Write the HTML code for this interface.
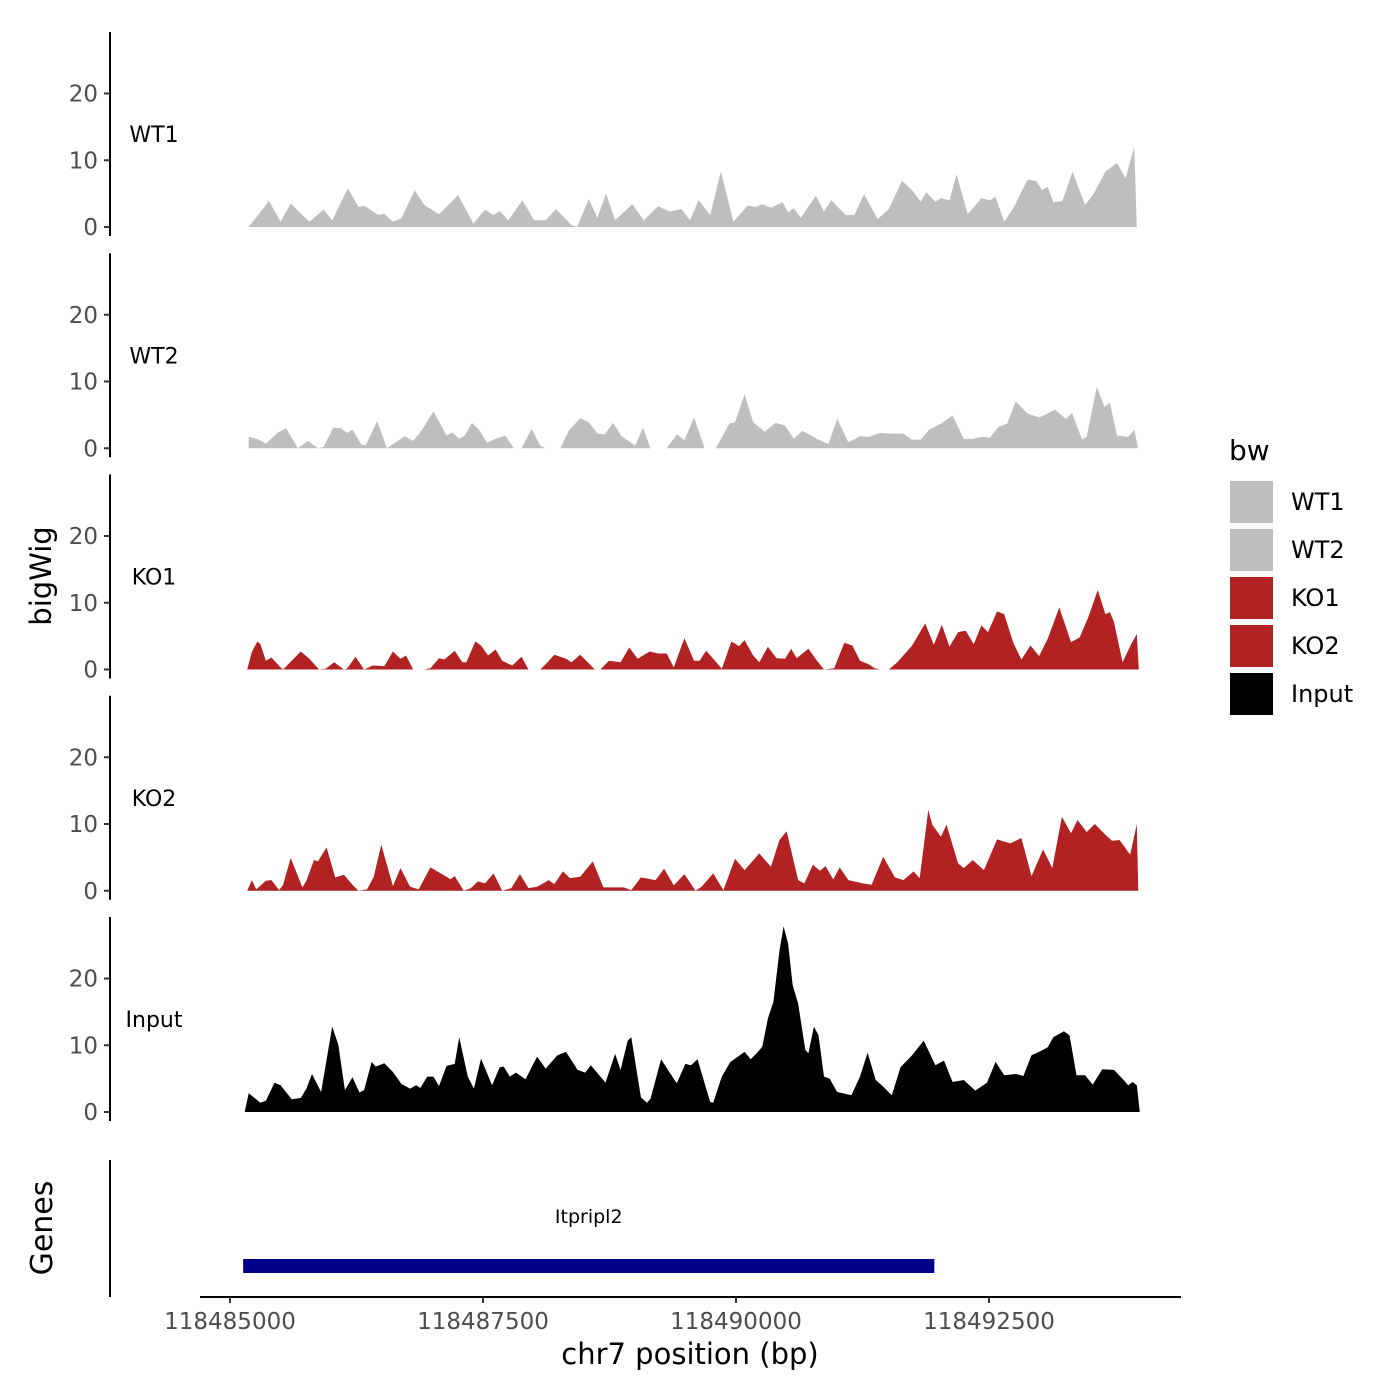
<!DOCTYPE html>
<html><head><meta charset="utf-8"><style>
html,body{margin:0;padding:0;background:#fff;}
svg{display:block;font-family:"DejaVu Sans","Liberation Sans",sans-serif;}
</style></head><body>
<svg id="chart" width="1400" height="1400" viewBox="0 0 1400 1400" xmlns="http://www.w3.org/2000/svg">
<rect width="1400" height="1400" fill="#fff"/>
<g id="tracks"></g>
<g id="axes"></g>
<text x="51" y="576" font-size="29" text-anchor="middle" transform="rotate(-90 51 576)" fill="#000">bigWig</text>
<text x="52" y="1228" font-size="30" text-anchor="middle" transform="rotate(-90 52 1228)" fill="#000">Genes</text>
<text x="690" y="1364" font-size="29" text-anchor="middle" fill="#000">chr7 position (bp)</text>
<g id="legend">
<text x="1229" y="460" font-size="28" fill="#000">bw</text>
</g>
</svg>
<script>
const regionStart = 118485000;
const trackNames = ["WT1","WT2","KO1","KO2","Input"];
const trackColors = ["#bebebe","#bebebe","#b22222","#b22222","#000000"];
const yTicks = [0,10,20];
const xTicks = [118485000,118487500,118490000,118492500];
const xTickLabels = ["118485000","118487500","118490000","118492500"];
const geneName = "Itpripl2";
const geneStart = 118485130;
const geneEnd = 118491960;

const wt1Pos = [185,385,500,600,785,925,1010,1165,1270,1325,1465,1525,1610,1695,1825,1920,2065,2255,2405,2520,2605,2665,2750,2890,3005,3120,3220,3375,3430,3545,3630,3715,3805,3975,4090,4230,4345,4460,4545,4630,4745,4850,4975,5115,5200,5260,5345,5460,5515,5570,5640,5790,5870,5940,6085,6170,6265,6400,6510,6640,6740,6825,6880,6970,7025,7110,7180,7290,7425,7510,7565,7650,7740,7880,7965,8025,8080,8135,8225,8325,8450,8535,8650,8765,8850,8935,8960];
const wt1Val = [0,3.9,0.8,3.5,0.8,2.6,1,5.8,3,3.2,1.8,2,0.8,1.3,5.5,3.3,1.9,4.8,0.5,2.6,1.8,2.4,1,4,1,1,2.7,0.3,0,4.2,1.4,5,1,3.4,1,3.1,2.3,2.7,1,4,1.8,8.3,0.8,3.2,3,3.4,2.9,3.7,2.2,2.8,1.4,4.7,2.3,4,1.8,1.8,4.9,1.2,2.7,6.9,5.5,3.8,5.2,3.8,4.3,4,7.9,1.9,4.3,4,4.5,0.8,2.8,7.1,6.9,5.5,6,3.7,3.9,8.3,3.3,5,8.3,9.6,7.3,12,0];

const wt2Pos = [185,270,355,470,555,670,770,870,925,1020,1095,1155,1210,1295,1340,1455,1550,1725,1810,1895,2010,2095,2140,2195,2265,2320,2390,2465,2540,2605,2720,2805,2880,2980,3065,3120,3265,3350,3460,3545,3630,3705,3785,3870,4005,4080,4155,4315,4415,4490,4585,4690,4800,4935,4990,5085,5170,5285,5390,5485,5570,5655,5800,5885,5915,6000,6110,6225,6310,6425,6540,6655,6740,6825,6910,7025,7140,7250,7340,7425,7510,7595,7680,7765,7880,7995,8080,8150,8260,8320,8420,8465,8565,8640,8695,8765,8875,8935,8970];
const wt2Val = [1.7,1.4,0.7,2.3,3,0,1.1,0,0.2,3.1,3,2.3,2.8,0.6,0.4,4.1,0,1.8,1.1,2.7,5.5,3.2,1.9,2.4,1.4,1.9,3.8,2.7,0.8,1.3,1.9,0,0,2.9,0.4,0,0,2.7,4.5,3.9,2.2,2.1,3.8,1.8,0.4,3.1,0,0,2.1,1.2,4.6,0,0,3.7,3.9,8.1,3.9,2.5,3.8,3.4,1.4,2.6,1.4,0.8,0.7,4.4,0.9,1.8,1.7,2.3,2.2,2.2,1.3,1.3,2.8,3.7,4.9,1.4,1.4,1.7,1.6,3.2,3.7,7,5.2,4.6,5.2,5.8,4.4,5.3,1.3,1.7,9.2,6.2,6.8,1.9,1.7,2.8,0.2];

const ko1Pos = [170,215,270,300,355,410,500,525,610,700,785,880,945,1030,1125,1155,1240,1325,1410,1525,1610,1685,1740,1810,1910,1980,2065,2120,2220,2295,2335,2425,2480,2550,2625,2690,2790,2880,2950,3065,3120,3205,3320,3375,3460,3520,3605,3660,3745,3860,3945,4030,4145,4230,4315,4385,4490,4585,4640,4705,4775,4860,4955,5030,5085,5170,5230,5315,5400,5485,5545,5600,5715,5800,5870,5970,6070,6150,6225,6310,6370,6425,6510,6595,6740,6870,6955,7035,7110,7195,7270,7350,7425,7490,7580,7650,7740,7820,7910,7995,8080,8195,8310,8395,8480,8575,8650,8695,8735,8820,8905,8960,8980];
const ko1Val = [0,2.6,4.2,3.8,1.3,1.8,0.3,0,1.3,2.7,1.6,0,0.1,1.1,0,0.1,1.9,0,0.6,0.5,2.7,1.6,2.1,0,0,0.2,1.7,1.5,2.8,1.1,1.1,4.2,3.6,2.1,3,1.3,0.6,1.9,0,0,0.8,2.2,1.6,1.1,2.2,1.3,0,0,1.3,1.1,3.3,1.6,2.7,2.4,2.4,0.3,4.7,1.3,1.3,2.8,1.6,0.1,4.2,3.5,4.4,2.1,1.1,3.4,1.7,1.6,3.1,1.7,3.1,1.3,0,0.2,4,3.6,1.3,0.8,0.2,0,0,1.1,3.6,6.9,3.7,6.7,3.4,5.6,5.8,3.8,6.6,5.6,8.7,8.3,4,1.5,3.6,2,4.6,9.3,4.1,4.8,7.8,11.9,8.3,8.6,7.1,1.1,3.8,5.3,0];

const ko2Pos = [170,215,260,355,410,485,525,600,715,755,830,870,955,1040,1125,1210,1270,1355,1420,1495,1610,1685,1780,1865,1980,2095,2180,2220,2310,2380,2450,2520,2605,2690,2780,2865,2950,3035,3150,3205,3290,3360,3460,3585,3690,3805,3890,3965,4060,4205,4290,4385,4490,4600,4660,4775,4875,4990,5085,5230,5345,5430,5500,5615,5675,5760,5830,5885,5960,6025,6110,6255,6340,6455,6570,6655,6755,6815,6900,6940,7025,7080,7195,7250,7340,7450,7580,7710,7820,7920,8035,8125,8220,8310,8375,8465,8545,8650,8715,8790,8895,8960,8975];
const ko2Val = [0,1.6,0.2,1.5,1.6,0.1,0.9,4.9,0.5,1.5,4.6,4.4,6.5,2,2.4,0.9,0,0.2,2.1,6.9,0.7,3.4,0.6,0.2,3.5,2.5,1.7,2.2,0,0.4,1.4,1.1,2.6,0,0.4,2.5,0.4,0.6,1.6,1,2.9,1.9,2.1,4.4,0.5,0.5,0.5,0.1,2,1.6,3.3,0.8,2.5,0,0.6,2.6,0.1,4.8,3.1,5.6,3.6,7.6,8.9,1.6,1.1,3.9,3,3.7,1.7,3.5,1.6,1.1,0.9,5.1,2,1.6,2.9,1.9,12.1,9.9,8.1,9.9,4.1,3.4,4.6,3.1,7.7,7.1,7.9,2.2,6.2,3.4,11.1,8.6,10.6,8.8,10,8.4,7.5,7.6,5.4,10,0];

const inputPos = [145,185,300,355,440,500,610,700,755,810,900,1010,1070,1135,1210,1280,1325,1400,1440,1525,1610,1695,1780,1840,1880,1950,2010,2065,2140,2220,2265,2350,2410,2480,2590,2665,2705,2765,2825,2920,3035,3120,3235,3320,3435,3510,3565,3710,3805,3860,3930,3965,4060,4120,4155,4260,4345,4415,4500,4555,4620,4690,4745,4775,4860,4945,5030,5085,5145,5210,5260,5315,5370,5430,5470,5515,5560,5615,5685,5715,5770,5815,5870,5925,6000,6055,6140,6225,6300,6380,6455,6540,6625,6740,6855,6970,7055,7140,7250,7365,7480,7565,7650,7765,7840,7920,7995,8080,8135,8240,8295,8365,8450,8525,8620,8735,8830,8875,8920,8960,8990];
const inputVal = [0,2.8,1.4,1.7,4.4,4,1.9,2.1,3.5,5.7,3,12.8,10.1,3.3,5.2,2.9,3.3,7.5,6.8,7.3,6,4.2,3.5,4,3.6,5.3,5.3,3.9,6.9,7.2,11.2,5.3,3.5,8,4,6.7,6.8,5.3,5.9,4.9,8.3,6.5,8.5,9,6.3,5.9,7,4.4,8.7,6.3,10.7,11.2,2.2,1.4,2,7.9,5.9,4.3,7.2,7,7.9,4.3,1.5,1.4,5.3,7.5,8.4,9,7.9,8.9,9.8,14,16.5,24.2,27.8,25.2,19,16.2,9.3,8.8,12.8,11.5,5.3,5,3,2.8,2.5,5.3,8.9,4.8,3.8,2.5,6.7,8.5,10.7,7,7.7,4.5,4.8,3.2,4.4,7.5,5.5,5.7,5.4,8.5,9,9.7,11.2,12.1,11.5,5.5,5.5,4.1,6.4,6.3,4.8,4,4.5,4,0];

const trackPos = [wt1Pos,wt2Pos,ko1Pos,ko2Pos,inputPos];
const trackVal = [wt1Val,wt2Val,ko1Val,ko2Val,inputVal];

const NS = "http://www.w3.org/2000/svg";
function xScale(bp){ return 230 + (bp - 118485000) * 253 / 2500; }
function panelZero(k){ return 227 + 221.25 * k; }
function yScale(k, v){ return panelZero(k) - v * 6.675; }
function mk(tag, attrs, parent){
  const e = document.createElementNS(NS, tag);
  for (const a in attrs) e.setAttribute(a, attrs[a]);
  parent.appendChild(e);
  return e;
}
const tracksG = document.getElementById('tracks');
const axesG = document.getElementById('axes');
const legendG = document.getElementById('legend');

trackNames.forEach((name, k) => {
  const pos = trackPos[k], val = trackVal[k];
  const y0 = panelZero(k);
  let d = "M" + xScale(regionStart + pos[0]).toFixed(1) + "," + y0.toFixed(1);
  for (let i = 0; i < pos.length; i++) {
    d += " L" + xScale(regionStart + pos[i]).toFixed(1) + "," + yScale(k, val[i]).toFixed(1);
  }
  d += " L" + xScale(regionStart + pos[pos.length-1]).toFixed(1) + "," + y0.toFixed(1) + " Z";
  const p = mk('path', {d: d, fill: trackColors[k], stroke: 'none'}, tracksG);
  
  

  const top = y0 - 195, bot = y0 + 9;
  const sp = mk('line', {x1: 110, x2: 110, y1: top, y2: bot, stroke: '#000', 'stroke-width': 2}, axesG);
  
  
  yTicks.forEach(t => {
    const yy = yScale(k, t);
    const tk = mk('line', {x1: 104, x2: 110, y1: yy, y2: yy, stroke: '#333', 'stroke-width': 2}, axesG);
    
    
    const tl = mk('text', {x: 98, y: yy + 8, 'font-size': 23, 'text-anchor': 'end', fill: '#4d4d4d'}, axesG);
    tl.textContent = String(t);
    
    
  });
  const lab = mk('text', {x: 154, y: y0 - 85, 'font-size': 22, 'text-anchor': 'middle', fill: '#000'}, axesG);
  lab.textContent = name;
  
  
});

const gsp = mk('line', {x1: 110, x2: 110, y1: 1160, y2: 1297, stroke: '#000', 'stroke-width': 2}, axesG);


const gene = mk('rect', {x: xScale(geneStart), y: 1259, width: xScale(geneEnd) - xScale(geneStart), height: 14, fill: '#00008b'}, axesG);


const gl = mk('text', {x: (xScale(geneStart) + xScale(geneEnd)) / 2, y: 1223, 'font-size': 19, 'text-anchor': 'middle', fill: '#000'}, axesG);
gl.textContent = geneName;



const xa = mk('line', {x1: 200, x2: 1181, y1: 1297, y2: 1297, stroke: '#000', 'stroke-width': 2}, axesG);


xTicks.forEach((t, i) => {
  const xx = xScale(t);
  const tk = mk('line', {x1: xx, x2: xx, y1: 1297, y2: 1303, stroke: '#333', 'stroke-width': 2}, axesG);
  
  
  const tl = mk('text', {x: xx, y: 1329, 'font-size': 23, 'text-anchor': 'middle', fill: '#4d4d4d'}, axesG);
  tl.textContent = xTickLabels[i];
  
  
});

trackNames.forEach((name, k) => {
  const yy = 481 + 48 * k;
  const r = mk('rect', {x: 1230, y: yy, width: 43, height: 42, fill: trackColors[k]}, legendG);
  
  
  const t = mk('text', {x: 1291, y: yy + 29, 'font-size': 24, fill: '#000'}, legendG);
  t.textContent = name;
  
  
});
</script>
</body></html>
